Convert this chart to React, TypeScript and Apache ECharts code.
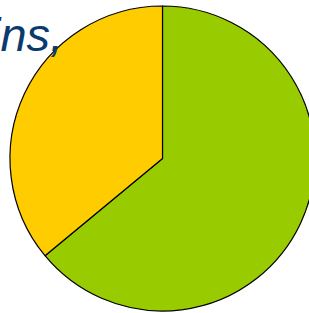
import React, { useEffect, useRef } from "react";
import * as echarts from "echarts";

const categories = ["Green", "Yellow"];
const values = [64, 36];
const colors = ["#99cc00", "#ffcc00"];
const caption = "ins,";

export default function App() {
  const ref = useRef<HTMLDivElement>(null);
  useEffect(() => {
    if (!ref.current) return;
    const chart = echarts.init(ref.current, null, { renderer: "svg" });
    chart.setOption({
      animation: false,
      backgroundColor: "#ffffff",
      series: [
        {
          type: "pie",
          center: [162.5, 158.5],
          radius: 152.5,
          startAngle: 90,
          clockwise: true,
          label: { show: false },
          labelLine: { show: false },
          emphasis: { disabled: true },
          itemStyle: { borderColor: "#000000", borderWidth: 1.2 },
          data: categories.map((c, i) => ({
            name: c,
            value: values[i],
            itemStyle: { color: colors[i] },
          })),
        },
      ],
      graphic: [
        {
          type: "text",
          z: 100,
          left: -10,
          top: 11,
          style: {
            text: caption,
            font: "italic 47px 'Liberation Sans', Arial, sans-serif",
            fill: "#0b3a6e",
          },
        },
      ],
    });
    return () => chart.dispose();
  }, []);
  return (
    <div
      ref={ref}
      style={{ position: "fixed", left: 0, top: 0, width: 309, height: 313 }}
    />
  );
}
